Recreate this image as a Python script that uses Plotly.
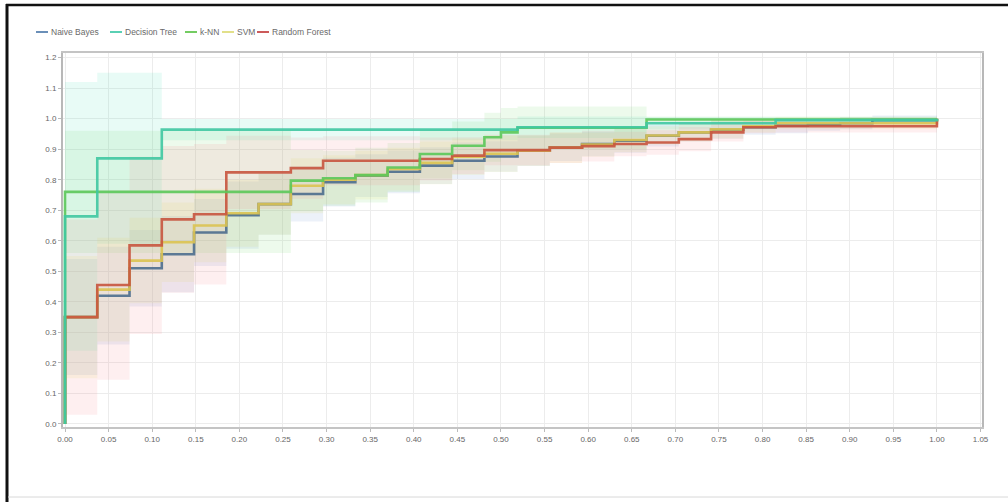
import plotly.graph_objects as go

# ---------------- data ----------------
series_names = ["Naive Bayes", "Decision Tree", "k-NN", "SVM", "Random Forest"]

nb_x = [0.0, 0.0, 0.037, 0.074, 0.111, 0.148, 0.185, 0.222, 0.259, 0.296, 0.333, 0.370, 0.407,
        0.444, 0.481, 0.519, 0.556, 0.593, 0.630, 0.667, 0.704, 0.741, 0.778, 0.815, 0.852,
        0.889, 0.926, 1.0]
nb_y = [0.0, 0.35, 0.42, 0.51, 0.556, 0.627, 0.684, 0.72, 0.753, 0.792, 0.813, 0.826, 0.846,
        0.862, 0.876, 0.895, 0.906, 0.917, 0.928, 0.944, 0.955, 0.964, 0.972, 0.977, 0.98,
        0.985, 0.995, 0.998]
nb_sd = [0.0, 0.19, 0.16, 0.125, 0.125, 0.11, 0.11, 0.1, 0.09, 0.08, 0.07, 0.07, 0.06,
         0.06, 0.05, 0.05, 0.045, 0.04, 0.04, 0.035, 0.03, 0.03, 0.025, 0.025, 0.02,
         0.02, 0.015, 0.01]

dt_x = [0.0, 0.0, 0.037, 0.111, 0.519, 0.667, 0.815, 1.0]
dt_y = [0.0, 0.68, 0.87, 0.964, 0.972, 0.985, 0.995, 1.0]
dt_sd = [0.0, 0.44, 0.28, 0.035, 0.035, 0.02, 0.01, 0.0]

knn_x = [0.0, 0.0, 0.259, 0.296, 0.333, 0.370, 0.407, 0.444, 0.481, 0.500, 0.519, 0.667, 1.0]
knn_y = [0.0, 0.76, 0.797, 0.805, 0.815, 0.84, 0.884, 0.911, 0.939, 0.955, 0.97, 0.997, 1.0]
knn_sd = [0.0, 0.2, 0.1, 0.09, 0.09, 0.08, 0.08, 0.08, 0.08, 0.08, 0.07, 0.01, 0.0]

svm_x = [0.0, 0.0, 0.037, 0.074, 0.111, 0.148, 0.185, 0.222, 0.259, 0.296, 0.333, 0.370, 0.407,
         0.444, 0.481, 0.519, 0.556, 0.593, 0.630, 0.667, 0.704, 0.741, 0.778, 0.815, 1.0]
svm_y = [0.0, 0.35, 0.44, 0.535, 0.595, 0.65, 0.69, 0.72, 0.78, 0.80, 0.815, 0.835, 0.855,
         0.875, 0.885, 0.895, 0.905, 0.915, 0.93, 0.945, 0.955, 0.965, 0.975, 0.985, 1.0]
svm_sd = [0.0, 0.2, 0.17, 0.14, 0.13, 0.12, 0.11, 0.1, 0.09, 0.08, 0.08, 0.07, 0.07,
          0.06, 0.06, 0.05, 0.05, 0.04, 0.04, 0.03, 0.03, 0.03, 0.02, 0.02, 0.01]

rf_x = [0.0, 0.0, 0.037, 0.074, 0.111, 0.148, 0.185, 0.259, 0.296, 0.407, 0.444, 0.481, 0.556,
        0.593, 0.630, 0.667, 0.704, 0.741, 0.778, 0.815, 1.0]
rf_y = [0.0, 0.35, 0.455, 0.585, 0.67, 0.687, 0.824, 0.838, 0.862, 0.868, 0.879, 0.897, 0.905,
        0.91, 0.917, 0.922, 0.933, 0.955, 0.972, 0.975, 1.0]
rf_sd = [0.0, 0.32, 0.31, 0.29, 0.24, 0.23, 0.12, 0.1, 0.08, 0.07, 0.06, 0.05, 0.05,
         0.05, 0.04, 0.04, 0.04, 0.03, 0.02, 0.02, 0.01]

x_ticks = [0.00, 0.05, 0.10, 0.15, 0.20, 0.25, 0.30, 0.35, 0.40, 0.45, 0.50, 0.55, 0.60,
           0.65, 0.70, 0.75, 0.80, 0.85, 0.90, 0.95, 1.00, 1.05]
y_ticks = [0.0, 0.1, 0.2, 0.3, 0.4, 0.5, 0.6, 0.7, 0.8, 0.9, 1.0, 1.1, 1.2]

# ---------------- styles ----------------
line_colors = {"Naive Bayes": "#4d6e8e", "Decision Tree": "#40c8a2", "k-NN": "#5cc85a",
               "SVM": "#dcc452", "Random Forest": "#c8553f"}
legend_colors = {"Naive Bayes": "#6a8fb8", "Decision Tree": "#5ad0b4", "k-NN": "#74cc62",
                 "SVM": "#e2e08a", "Random Forest": "#cc5a5a"}
band_colors = {"Naive Bayes": "rgba(110,150,210,0.13)", "Decision Tree": "rgba(90,225,190,0.14)",
               "k-NN": "rgba(110,215,100,0.12)", "SVM": "rgba(225,225,90,0.13)",
               "Random Forest": "rgba(245,120,130,0.12)"}

data = {
    "Naive Bayes": (nb_x, nb_y, nb_sd),
    "Decision Tree": (dt_x, dt_y, dt_sd),
    "k-NN": (knn_x, knn_y, knn_sd),
    "SVM": (svm_x, svm_y, svm_sd),
    "Random Forest": (rf_x, rf_y, rf_sd),
}

fig = go.Figure()

# bands
for name in series_names:
    xs, ys, sd = data[name]
    up = [y + s for y, s in zip(ys, sd)]
    lo = [max(y - s, 0.0) if s > 0 else y for y, s in zip(ys, sd)]
    fig.add_trace(go.Scatter(x=xs[1:], y=up[1:], mode="lines", line=dict(width=0, shape="hv"),
                             hoverinfo="skip", showlegend=False))
    fig.add_trace(go.Scatter(x=xs[1:], y=lo[1:], mode="lines", line=dict(width=0, shape="hv"),
                             fill="tonexty", fillcolor=band_colors[name],
                             hoverinfo="skip", showlegend=False))

# lines
for name in ["Naive Bayes", "SVM", "Random Forest", "k-NN", "Decision Tree"]:
    xs, ys, sd = data[name]
    fig.add_trace(go.Scatter(x=xs, y=ys, mode="lines", name=name,
                             line=dict(color=line_colors[name], width=2.6, shape="hv"),
                             opacity=0.9, showlegend=False))

# ---------------- layout ----------------
L, R, T, B = 63, 26, 53, 75
W, H = 1008, 502
pw, ph = W - L - R, H - T - B


def px_to_paper_x(px):
    return (px - L) / pw


def px_to_paper_y(py):
    return (H - B - py) / ph


annotations = []
shapes = []
legend_items = [("Naive Bayes", 36, 49), ("Decision Tree", 110, 123), ("k-NN", 185, 198),
                ("SVM", 222, 235), ("Random Forest", 257, 270)]
ly = 32
for name, lx0, tx in legend_items:
    shapes.append(dict(type="line", xref="paper", yref="paper",
                       x0=px_to_paper_x(lx0), x1=px_to_paper_x(lx0 + 12),
                       y0=px_to_paper_y(ly), y1=px_to_paper_y(ly),
                       line=dict(color=legend_colors[name], width=2)))
    annotations.append(dict(xref="paper", yref="paper", x=px_to_paper_x(tx), y=px_to_paper_y(ly),
                            text=name, showarrow=False, xanchor="left", yanchor="middle",
                            font=dict(family="Arial, Liberation Sans, sans-serif", size=8.5, color="#6a6a6a")))

# outer image frame
shapes.append(dict(type="line", xref="paper", yref="paper",
                   x0=px_to_paper_x(7), x1=px_to_paper_x(7), y0=px_to_paper_y(4), y1=px_to_paper_y(502),
                   line=dict(color="#111111", width=3)))
shapes.append(dict(type="line", xref="paper", yref="paper",
                   x0=px_to_paper_x(6), x1=px_to_paper_x(1008), y0=px_to_paper_y(5), y1=px_to_paper_y(5),
                   line=dict(color="#111111", width=2.5)))
shapes.append(dict(type="line", xref="paper", yref="paper",
                   x0=px_to_paper_x(8), x1=px_to_paper_x(1008), y0=px_to_paper_y(497), y1=px_to_paper_y(497),
                   line=dict(color="#d8d8d8", width=1)))

fig.update_layout(
    width=W, height=H,
    margin=dict(l=L, r=R, t=T, b=B),
    paper_bgcolor="white", plot_bgcolor="white",
    showlegend=False,
    annotations=annotations,
    shapes=shapes,
    font=dict(family="Arial, Liberation Sans, sans-serif", size=8, color="#666666"),
)
fig.update_xaxes(range=[-0.0023, 1.0517], tickvals=x_ticks, tickformat=".2f",
                 showgrid=True, gridcolor="#ececec", gridwidth=1, zeroline=False,
                 showline=True, linecolor="#c4c4c4", linewidth=2, mirror=True,
                 ticks="outside", ticklen=3, tickcolor="#bbbbbb",
                 tickfont=dict(size=8, color="#666666"))
fig.update_yaxes(range=[-0.01, 1.215], tickvals=y_ticks, tickformat=".1f",
                 showgrid=True, gridcolor="#ececec", gridwidth=1, zeroline=False,
                 showline=True, linecolor="#b8b8b8", linewidth=2, mirror=True,
                 ticks="outside", ticklen=3, tickcolor="#bbbbbb",
                 tickfont=dict(size=8, color="#666666"))

fig.write_html("out.html")
